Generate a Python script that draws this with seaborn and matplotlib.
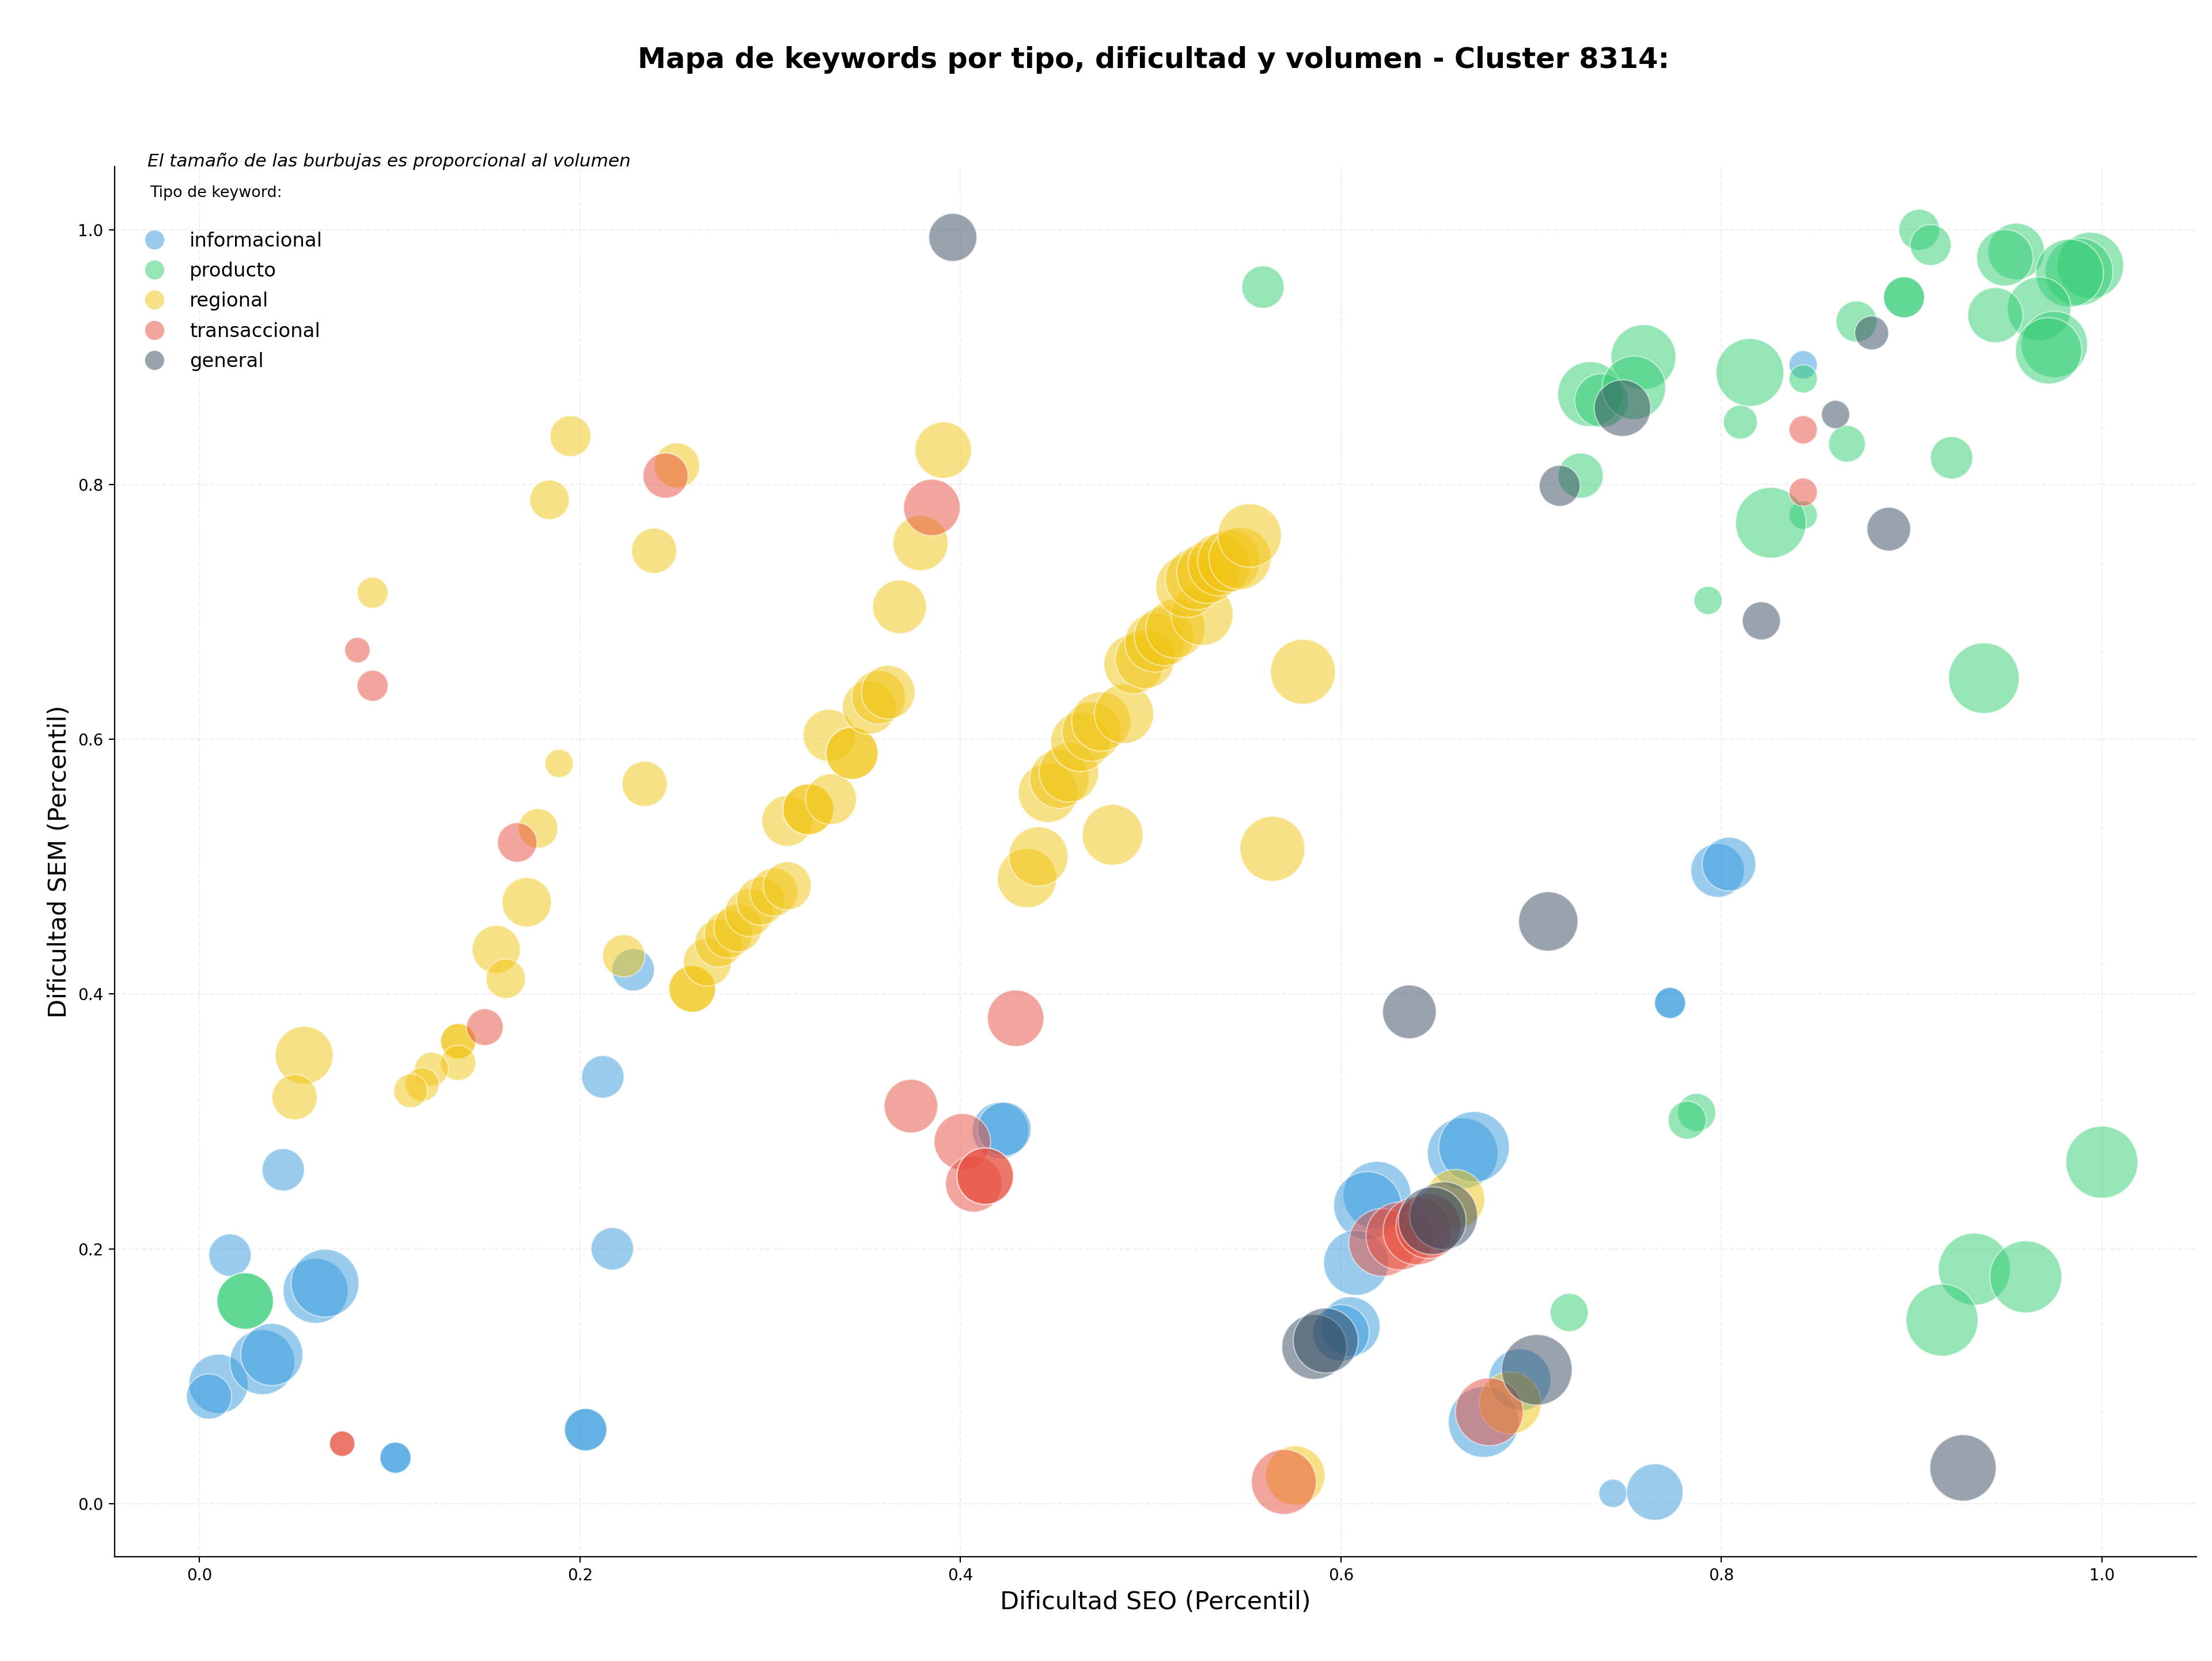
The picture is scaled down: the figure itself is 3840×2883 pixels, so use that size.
import matplotlib
matplotlib.use("Agg")
import matplotlib.pyplot as plt
from matplotlib.lines import Line2D
import pandas as pd
import seaborn as sns

TIPOS = ["informacional", "producto", "regional", "transaccional", "general"]
COLORES = {
    "informacional": "#3498DB",
    "producto": "#2ECC71",
    "regional": "#F1C40F",
    "transaccional": "#E74C3C",
    "general": "#34495E",
}

# --- datos: dificultad SEO (x), dificultad SEM (y), volumen ---
info_seo = [0.044, 0.016, 0.010, 0.005, 0.033, 0.038, 0.061, 0.066, 0.103, 0.103,
            0.203, 0.203, 0.212, 0.217, 0.228, 0.421, 0.423, 0.664, 0.670, 0.619,
            0.614, 0.608, 0.605, 0.600, 0.675, 0.694, 0.743, 0.765, 0.773, 0.773,
            0.798, 0.804, 0.843]
info_sem = [0.262, 0.195, 0.094, 0.084, 0.111, 0.117, 0.167, 0.173, 0.036, 0.036,
            0.058, 0.058, 0.335, 0.200, 0.419, 0.293, 0.294, 0.275, 0.280, 0.242,
            0.234, 0.189, 0.139, 0.134, 0.064, 0.097, 0.008, 0.009, 0.393, 0.393,
            0.497, 0.502, 0.894]
info_vol = [700, 700, 1371, 796, 1645, 1505, 1645, 1791, 376, 376,
            700, 700, 700, 700, 700, 1244, 1123, 1944, 1944, 1791,
            1791, 1645, 1371, 1244, 1944, 1505, 311, 1244, 376, 376,
            1123, 1123, 311]

prod_seo = [0.024, 0.024, 0.559, 0.904, 0.910, 0.955, 0.949, 0.994, 0.988, 0.983,
            0.967, 0.944, 0.975, 0.972, 0.896, 0.896, 0.871, 0.815, 0.843, 0.866,
            0.810, 0.921, 0.759, 0.731, 0.737, 0.754, 0.726, 0.843, 0.826, 0.793,
            0.938, 0.787, 0.782, 1.000, 0.933, 0.960, 0.916, 0.720]
prod_sem = [0.159, 0.159, 0.955, 1.000, 0.988, 0.983, 0.978, 0.972, 0.967, 0.966,
            0.938, 0.933, 0.910, 0.905, 0.947, 0.947, 0.928, 0.888, 0.883, 0.832,
            0.849, 0.821, 0.900, 0.871, 0.866, 0.876, 0.807, 0.776, 0.770, 0.709,
            0.648, 0.307, 0.301, 0.268, 0.184, 0.178, 0.144, 0.150]
prod_vol = [1244, 1244, 700, 654, 654, 1244, 1244, 1717, 1791, 1791,
            1574, 1183, 1717, 1717, 654, 654, 654, 1791, 311, 526,
            448, 700, 1645, 1645, 1123, 1574, 796, 311, 1944, 311,
            1944, 567, 567, 2022, 2022, 2022, 2022, 567]

reg_seo = [0.195, 0.251, 0.184, 0.239, 0.091, 0.189, 0.234, 0.178, 0.172, 0.156,
           0.161, 0.223, 0.259, 0.259, 0.267, 0.273, 0.278, 0.283, 0.289, 0.295,
           0.302, 0.309, 0.309, 0.320, 0.320, 0.332, 0.331, 0.343, 0.343, 0.352,
           0.357, 0.362, 0.368, 0.379, 0.391, 0.055, 0.050, 0.136, 0.136, 0.136,
           0.122, 0.117, 0.111, 0.435, 0.441, 0.446, 0.452, 0.457, 0.463, 0.469,
           0.474, 0.486, 0.480, 0.491, 0.497, 0.502, 0.507, 0.513, 0.527, 0.519,
           0.524, 0.530, 0.536, 0.541, 0.547, 0.552, 0.580, 0.564, 0.576, 0.660,
           0.689]
reg_sem = [0.838, 0.815, 0.788, 0.748, 0.715, 0.581, 0.565, 0.530, 0.472, 0.435,
           0.412, 0.430, 0.404, 0.404, 0.425, 0.440, 0.447, 0.452, 0.464, 0.473,
           0.480, 0.485, 0.536, 0.545, 0.545, 0.553, 0.603, 0.589, 0.589, 0.625,
           0.633, 0.637, 0.704, 0.754, 0.827, 0.352, 0.319, 0.363, 0.363, 0.346,
           0.341, 0.329, 0.324, 0.491, 0.508, 0.558, 0.569, 0.574, 0.598, 0.606,
           0.614, 0.620, 0.525, 0.659, 0.663, 0.676, 0.681, 0.687, 0.698, 0.720,
           0.726, 0.731, 0.737, 0.740, 0.742, 0.760, 0.653, 0.514, 0.022, 0.239,
           0.079]
reg_vol = [654, 796, 610, 796, 376, 311, 796, 610, 952, 899,
           610, 700, 847, 847, 899, 899, 899, 899, 899, 899,
           899, 899, 1008, 1008, 1008, 1008, 1064, 1064, 1064, 1123,
           1123, 1123, 1123, 1183, 1244, 1307, 796, 486, 486, 486,
           448, 448, 448, 1371, 1371, 1371, 1371, 1371, 1371, 1371,
           1371, 1371, 1438, 1371, 1371, 1371, 1371, 1371, 1505, 1505,
           1505, 1505, 1505, 1505, 1505, 1574, 1645, 1645, 1371, 1371,
           1505]

trans_seo = [0.245, 0.083, 0.091, 0.167, 0.150, 0.385, 0.429, 0.374, 0.401, 0.407,
             0.413, 0.413, 0.075, 0.075, 0.843, 0.843, 0.570, 0.622, 0.631, 0.640,
             0.646, 0.678]
trans_sem = [0.807, 0.670, 0.642, 0.519, 0.374, 0.782, 0.381, 0.312, 0.284, 0.251,
             0.257, 0.257, 0.047, 0.047, 0.843, 0.794, 0.017, 0.205, 0.210, 0.214,
             0.218, 0.072]
trans_vol = [796, 252, 376, 610, 526, 1244, 1244, 1123, 1244, 1244,
             1244, 1244, 252, 252, 311, 311, 1645, 1791, 1791, 1791,
             1645, 1791]

gen_seo = [0.396, 0.879, 0.860, 0.748, 0.715, 0.888, 0.821, 0.709, 0.636, 0.927,
           0.703, 0.654, 0.648, 0.586, 0.592]
gen_sem = [0.994, 0.919, 0.855, 0.860, 0.799, 0.765, 0.693, 0.457, 0.386, 0.028,
           0.105, 0.226, 0.222, 0.123, 0.128]
gen_vol = [899, 448, 311, 1244, 654, 747, 567, 1371, 1123, 1717,
           1944, 1791, 1791, 1645, 1645]

series = [
    ("informacional", info_seo, info_sem, info_vol),
    ("producto", prod_seo, prod_sem, prod_vol),
    ("regional", reg_seo, reg_sem, reg_vol),
    ("transaccional", trans_seo, trans_sem, trans_vol),
    ("general", gen_seo, gen_sem, gen_vol),
]
df = pd.concat(
    [pd.DataFrame({"seo": xs, "sem": ys, "volumen": vs, "tipo": t}) for t, xs, ys, vs in series],
    ignore_index=True,
)

sns.set_style("ticks")
plt.rcParams["font.family"] = ["DejaVu Sans"]
plt.rcParams.update({
    "text.color": "black", "axes.labelcolor": "black", "axes.edgecolor": "black",
    "xtick.color": "black", "ytick.color": "black",
})

fig = plt.figure(figsize=(19.2, 14.415), dpi=200)
ax = fig.add_axes([0.0517, 0.0629, 0.9413, 0.8368])

sns.scatterplot(
    data=df, x="seo", y="sem", hue="tipo", hue_order=TIPOS, palette=COLORES,
    size="volumen", sizes=(df["volumen"].min(), df["volumen"].max()),
    alpha=0.5, edgecolor="white", linewidth=0.8, legend=False, ax=ax,
)

ax.grid(True, linestyle="--", alpha=0.3)
sns.despine(ax=ax)
ax.tick_params(labelsize=10)
ax.set_xlabel("Dificultad SEO (Percentil)", fontsize=15.5)
ax.set_ylabel("Dificultad SEM (Percentil)", fontsize=15.5)

fig.text(0.5216, 0.964, "Mapa de keywords por tipo, dificultad y volumen - Cluster 8314:",
         ha="center", va="center", fontsize=17.8, fontweight="bold")
ax.text(0.016, 1.004, "El tamaño de las burbujas es proporcional al volumen",
        transform=ax.transAxes, fontsize=11.2, style="italic", va="center")
ax.text(0.017, 0.981, "Tipo de keyword:", transform=ax.transAxes, fontsize=9.7, va="center")

handles = [Line2D([0], [0], marker="o", linestyle="", markersize=12, alpha=0.5,
                  markerfacecolor=COLORES[t], markeredgewidth=0) for t in TIPOS]
ax.legend(handles, TIPOS, loc="upper left", bbox_to_anchor=(0.006, 0.959),
          borderaxespad=0, frameon=False, fontsize=12.2, labelspacing=0.57)

fig.savefig("out.png", dpi=200)
plt.close(fig)
